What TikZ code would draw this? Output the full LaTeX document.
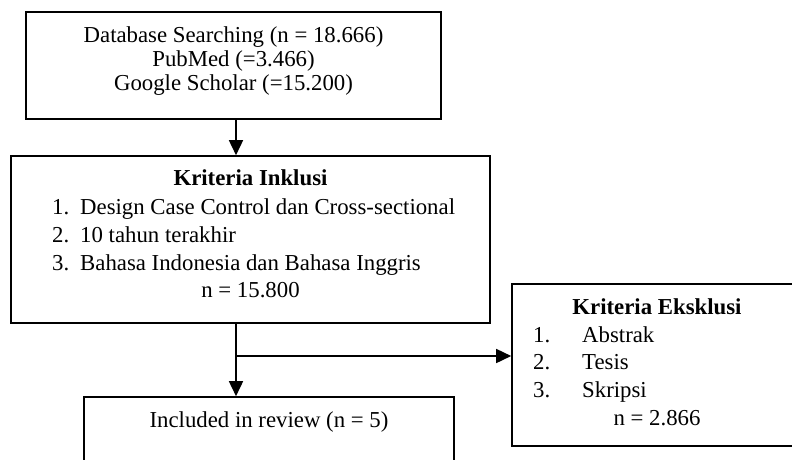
\documentclass[tikz,border=0pt]{standalone}
\usepackage{fontspec}
\setmainfont{Liberation Serif}
\usetikzlibrary{arrows.meta, positioning}

\tikzset{
  box/.style={draw, rectangle, line width=1.6pt, inner sep=0pt},
  txt/.style={anchor=base, inner sep=0pt, font=\fontsize{22.8}{24}\selectfont},
  item/.style={txt, anchor=base west},
  flow/.style={line width=1.6pt, -{Triangle[width=14pt,length=15pt]}}
}

\begin{document}
\begin{tikzpicture}[x=1pt, y=-1pt]
\useasboundingbox (0,0) rectangle (792,459);
\clip (0,0) rectangle (792,459);
        % Draw the boxes
        \node[box, minimum width=415pt, minimum height=107pt] at (233.5,65.5) (search)   {};
        \node[box, minimum width=479pt, minimum height=167pt] at (250.5,239.5) (inklusi) {};
        \node[box, minimum width=370pt, minimum height=83pt]  at (269,438.5)  (included) {};
        \node[box, minimum width=290pt, minimum height=162pt] at (657,365)    (eksklusi) {};
        \coordinate (split) at (236,356);
        % Texts of the boxes
        \node[txt] at (233.5,42) (db)     {Database Searching (n = 18.666)};
        \node[txt] at (233.5,66) (pubmed) {PubMed (=3.466)};
        \node[txt] at (233.5,90) (gs)     {Google Scholar (=15.200)};
        \node[txt] at (250.5,185) (inhead) {\textbf{Kriteria Inklusi}};
        \foreach \y/\t [count=\k] in {214/Design Case Control dan Cross-sectional,
                                      242/10 tahun terakhir,
                                      270/Bahasa Indonesia dan Bahasa Inggris}
        {
            \node[item] at (52,\y) (inum\k)  {\k.};
            \node[item] at (80,\y) (itext\k) {\t};
        }
        \node[txt] at (250.5,297) (inn) {n = 15.800};
        \node[txt] at (657,314) (exhead) {\textbf{Kriteria Eksklusi}};
        \foreach \y/\t [count=\k] in {342/Abstrak, 369/Tesis, 397/Skripsi}
        {
            \node[item] at (533,\y) (enum\k)  {\k.};
            \node[item] at (582,\y) (etext\k) {\t};
        }
        \node[txt] at (657,425) (exn) {n = 2.866};
        \node[txt] at (269,427) (review) {Included in review (n = 5)};
        % Connect the boxes
        \draw[flow] (search.south -| split) -- (inklusi.north -| split);
        \draw[flow] (inklusi.south -| split) -- (included.north -| split);
        \draw[flow] (split) -- (split -| eksklusi.west);
\end{tikzpicture}
\end{document}
